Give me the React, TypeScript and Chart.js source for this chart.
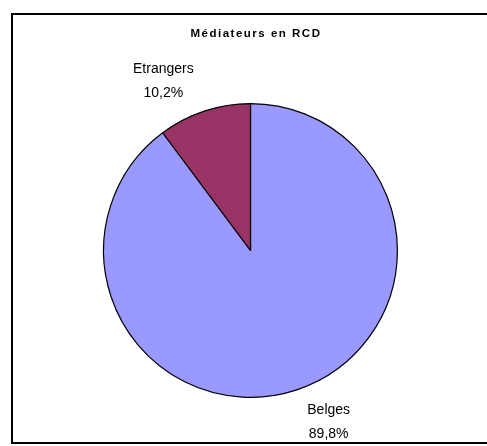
import React, { useEffect, useRef } from "react";
import { Chart, registerables } from "chart.js";

Chart.register(...registerables);

const categories: string[] = ["Belges", "Etrangers"];
const shares: number[] = [89.8, 10.2];
const sliceColors: string[] = ["#9999FF", "#993366"];
const chartTitle = "Médiateurs en RCD";

const W = 487;
const H = 446;
// outer frame of the chart object (its right edge runs past the page)
const FRAME = { left: 11, top: 13, width: 490, height: 431 };

const fmtPct = (v: number) => v.toFixed(1).replace(".", ",") + "%";

const labelPlugin = {
  id: "sliceLabels",
  afterDraw(chart: any) {
    const ctx: CanvasRenderingContext2D = chart.ctx;
    ctx.save();

    // title, bold with wide tracking
    ctx.font = "bold 11.5px 'Liberation Sans', Arial, sans-serif";
    (ctx as any).letterSpacing = "1.5px";
    ctx.fillStyle = "#000";
    ctx.textBaseline = "alphabetic";
    ctx.textAlign = "left";
    const tw = ctx.measureText(chartTitle).width;
    const tcx = FRAME.left + FRAME.width / 2;
    ctx.fillText(chartTitle, tcx - tw / 2, 37);
    (ctx as any).letterSpacing = "0px";

    // category + percentage next to each slice
    const meta = chart.getDatasetMeta(0);
    ctx.font = "14px 'Liberation Sans', Arial, sans-serif";
    ctx.textAlign = "center";
    ctx.textBaseline = "middle";
    meta.data.forEach((arc: any, i: number) => {
      const { x, y, startAngle, endAngle, outerRadius } = arc.getProps(
        ["x", "y", "startAngle", "endAngle", "outerRadius"],
        true
      );
      const mid = (startAngle + endAngle) / 2;
      const dx = Math.cos(mid);
      const dy = Math.sin(mid);
      const px = x + outerRadius * dx;
      const py = y + outerRadius * dy;
      const sx = dx < 0 ? -1 : 1;
      const sy = dy < 0 ? -1 : 1;
      const cornerX = px + sx * 10.5;
      const cornerY = py + sy * 10;
      const l1 = categories[i];
      const l2 = fmtPct(shares[i]);
      const bw = Math.max(ctx.measureText(l1).width, ctx.measureText(l2).width);
      const cx = sx < 0 ? cornerX - bw / 2 : cornerX + bw / 2;
      let y1: number, y2: number;
      if (sy < 0) {
        y2 = cornerY - 8;
        y1 = y2 - 24;
      } else {
        y1 = cornerY + 10;
        y2 = y1 + 24;
      }
      ctx.fillText(l1, cx, y1);
      ctx.fillText(l2, cx, y2);
    });
    ctx.restore();
  },
};

export default function App() {
  const ref = useRef<HTMLCanvasElement | null>(null);

  useEffect(() => {
    if (!ref.current) return;
    const chart = new Chart(ref.current, {
      type: "pie",
      data: {
        labels: categories,
        datasets: [
          {
            data: shares,
            backgroundColor: sliceColors,
            borderColor: "#000",
            borderWidth: 1.2,
          },
        ],
      },
      options: {
        responsive: false,
        animation: false,
        events: [],
        layout: { padding: { left: 103, right: 89, top: 103, bottom: 48 } },
        plugins: {
          legend: { display: false },
          title: { display: false },
          tooltip: { enabled: false },
        },
      },
      plugins: [labelPlugin],
    });
    return () => chart.destroy();
  }, []);

  return (
    <div
      style={{
        position: "fixed",
        left: 0,
        top: 0,
        width: W,
        height: H,
        overflow: "hidden",
        background: "#fff",
      }}
    >
      <canvas ref={ref} width={W} height={H} style={{ position: "absolute", left: 0, top: 0 }} />
      <div
        style={{
          position: "absolute",
          left: FRAME.left,
          top: FRAME.top,
          width: FRAME.width,
          height: FRAME.height,
          boxSizing: "border-box",
          border: "2px solid #000",
          pointerEvents: "none",
        }}
      />
    </div>
  );
}
